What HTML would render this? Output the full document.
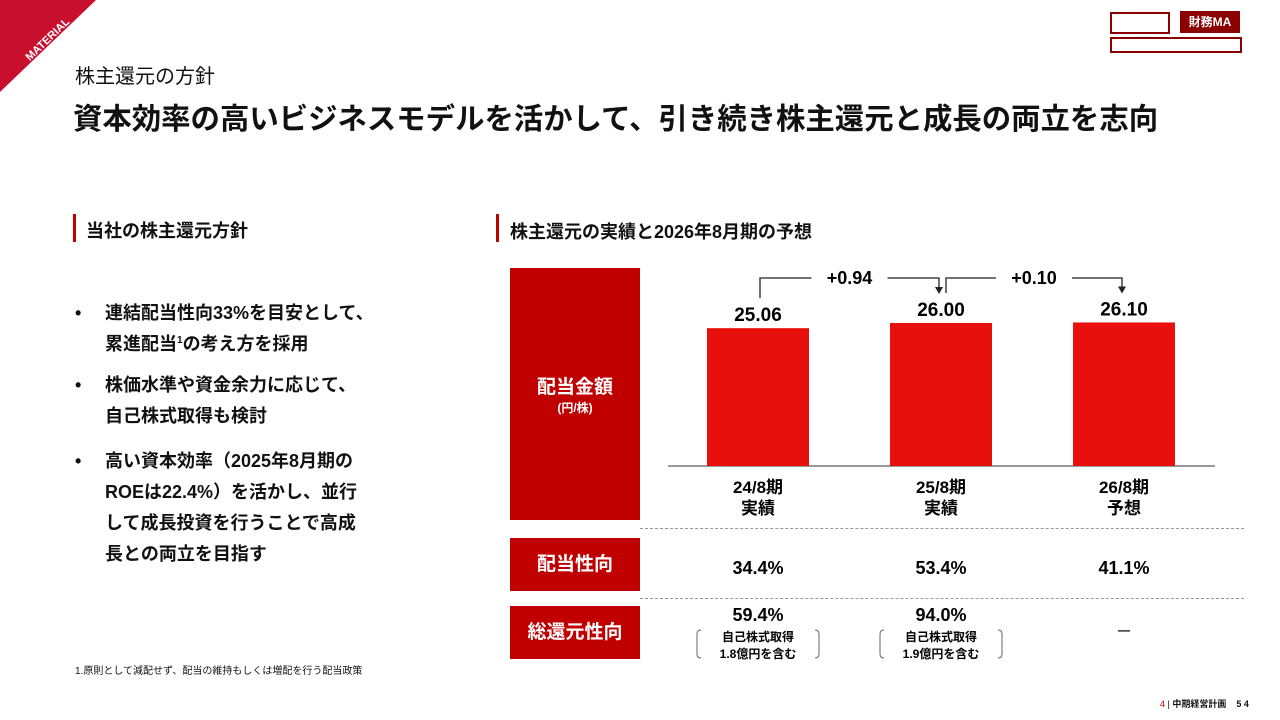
<!DOCTYPE html>
<html><head><meta charset="utf-8"><style>
body{margin:0;width:1280px;height:720px;overflow:hidden;background:#fff;font-family:"Liberation Sans","Noto Sans CJK JP",sans-serif;color:#111;position:relative}
.a{position:absolute}
.b{font-weight:bold}
.ln{position:absolute;left:105px;font-size:18px;font-weight:bold;white-space:nowrap;line-height:22px}
.bu{position:absolute;left:75px;font-size:18px;font-weight:bold;line-height:22px}
</style></head><body>
<svg class="a" style="left:0;top:0" width="100" height="100"><polygon points="0,0 96,0 0,92" fill="#c8102e"/><text x="22" y="58" transform="rotate(-44 30 50)" fill="#fff" font-size="11" font-weight="bold" font-family="Liberation Sans">MATERIAL</text></svg>
<div class="a" style="left:1110px;top:12px;width:56px;height:18px;border:2px solid #8b0000"></div>
<div class="a" style="left:1180px;top:11px;width:60px;height:22px;background:#8b0000;color:#fff;font-size:12px;font-weight:bold;line-height:22px;text-align:center">財務MA</div>
<div class="a" style="left:1110px;top:37px;width:128px;height:12px;border:2px solid #8b0000"></div>
<div class="a" style="left:75px;top:60px;font-size:20px">株主還元の方針</div>
<div class="a b" style="left:73px;top:96px;font-size:29.4px">資本効率の高いビジネスモデルを活かして、引き続き株主還元と成長の両立を志向</div>
<div class="a" style="left:73px;top:214px;width:3px;height:28px;background:#c00000"></div>
<div class="a b" style="left:86px;top:217px;font-size:18px">当社の株主還元方針</div>
<div class="a" style="left:496px;top:214px;width:3px;height:28px;background:#c00000"></div>
<div class="a b" style="left:510px;top:218px;font-size:18px">株主還元の実績と2026年8月期の予想</div>
<div>
<div class="bu" style="top:302px">•</div>
<div class="ln" style="top:302px">連結配当性向33%を目安として、</div>
<div class="ln" style="top:333px">累進配当<sup style="font-size:10px;line-height:0">1</sup>の考え方を採用</div>
<div class="bu" style="top:374px">•</div>
<div class="ln" style="top:374px">株価水準や資金余力に応じて、</div>
<div class="ln" style="top:405px">自己株式取得も検討</div>
<div class="bu" style="top:450px">•</div>
<div class="ln" style="top:450px">高い資本効率（2025年8月期の</div>
<div class="ln" style="top:481px">ROEは22.4%）を活かし、並行</div>
<div class="ln" style="top:512px">して成長投資を行うことで高成</div>
<div class="ln" style="top:543px">長との両立を目指す</div>
</div>
<div class="a" style="left:75px;top:662px;font-size:10px">1.原則として減配せず、配当の維持もしくは増配を行う配当政策</div>
<div class="a b" style="left:510px;top:268px;width:130px;height:252px;background:#c00000;color:#fff;text-align:center"><div style="margin-top:104px;font-size:19px">配当金額</div><div style="font-size:12px">(円/株)</div></div>
<div class="a b" style="left:510px;top:538px;width:130px;height:53px;background:#c00000;color:#fff;font-size:19px;line-height:53px;text-align:center">配当性向</div>
<div class="a b" style="left:510px;top:606px;width:130px;height:53px;background:#c00000;color:#fff;font-size:19px;line-height:53px;text-align:center">総還元性向</div>
<div class="a" style="left:640px;top:528px;width:604px;border-top:1px dashed #999"></div>
<div class="a" style="left:640px;top:598px;width:604px;border-top:1px dashed #999"></div>
<svg class="a" id="ch" style="left:0;top:0" width="1280" height="720"></svg>
<div class="a" style="left:1160px;top:697px;font-size:9px"><span style="color:#c00000">4</span> | <b>中期経営計画</b>&nbsp;&nbsp;&nbsp;&nbsp;<b>5 4</b></div>
<script>
const categories=["24/8期","25/8期","26/8期"];
const subLabels=["実績","実績","予想"];
const dividends=[25.06,26.00,26.10];
const dividendLabels=["25.06","26.00","26.10"];
const payout=["34.4%","53.4%","41.1%"];
const totalReturn=["59.4%","94.0%","—"];
const buyback=["1.8億円を含む","1.9億円を含む",""];
const diffs=["+0.94","+0.10"];
const svg=document.getElementById('ch');const NS='http://www.w3.org/2000/svg';
const base=466,scale=5.5;
const x=i=>758+i*183, y=v=>base-v*scale;
function el(t,a,txt){const e=document.createElementNS(NS,t);for(const k in a)e.setAttribute(k,a[k]);if(txt!=null)e.textContent=txt;svg.appendChild(e);return e;}
const ax=el('line',{x1:668,x2:1215,y1:base,y2:base,stroke:'#333','stroke-width':1});


dividends.forEach((v,i)=>{
const r=el('rect',{x:x(i)-51,y:y(v),width:102,height:v*scale,fill:'#e8100c'});


const t=el('text',{x:x(i),y:y(v)-7,'text-anchor':'middle','font-size':19,'font-weight':'bold'},dividendLabels[i]);


el('text',{x:x(i),y:493,'text-anchor':'middle','font-size':17,'font-weight':'bold'},categories[i]);
el('text',{x:x(i),y:514,'text-anchor':'middle','font-size':17,'font-weight':'bold'},subLabels[i]);
const p=el('text',{x:x(i),y:574,'text-anchor':'middle','font-size':18,'font-weight':'bold'},payout[i]);


const q=el('text',{x:x(i),y:i<2?621:634,'text-anchor':'middle','font-size':i<2?18:12,'font-weight':'bold'},totalReturn[i]);


if(buyback[i]){
el('text',{x:x(i),y:641,'text-anchor':'middle','font-size':12,'font-weight':'bold'},'自己株式取得');
el('text',{x:x(i),y:658,'text-anchor':'middle','font-size':12,'font-weight':'bold'},buyback[i]);
el('path',{d:`M${x(i)-57},630 q-4,0 -4,4 v20 q0,4 4,4`,fill:'none',stroke:'#666'});
el('path',{d:`M${x(i)+57},630 q4,0 4,4 v20 q0,4 -4,4`,fill:'none',stroke:'#666'});
}
});
diffs.forEach((d,i)=>{
const x0=x(i)+(i?5:2),x1=x(i+1)-2,mid=(x0+x1)/2,yt=278;
el('path',{d:`M${x0},${y(dividends[i])-30} V${yt} H${mid-38} M${mid+38},${yt} H${x1} V${y(dividends[i+1])-35}`,fill:'none',stroke:'#222','stroke-width':1.3});
el('polygon',{points:`${x1-4},${y(dividends[i+1])-36} ${x1+4},${y(dividends[i+1])-36} ${x1},${y(dividends[i+1])-29}`,fill:'#222'});
const t=el('text',{x:mid,y:yt+6,'text-anchor':'middle','font-size':18,'font-weight':'bold'},d);


});
</script>
</body></html>
